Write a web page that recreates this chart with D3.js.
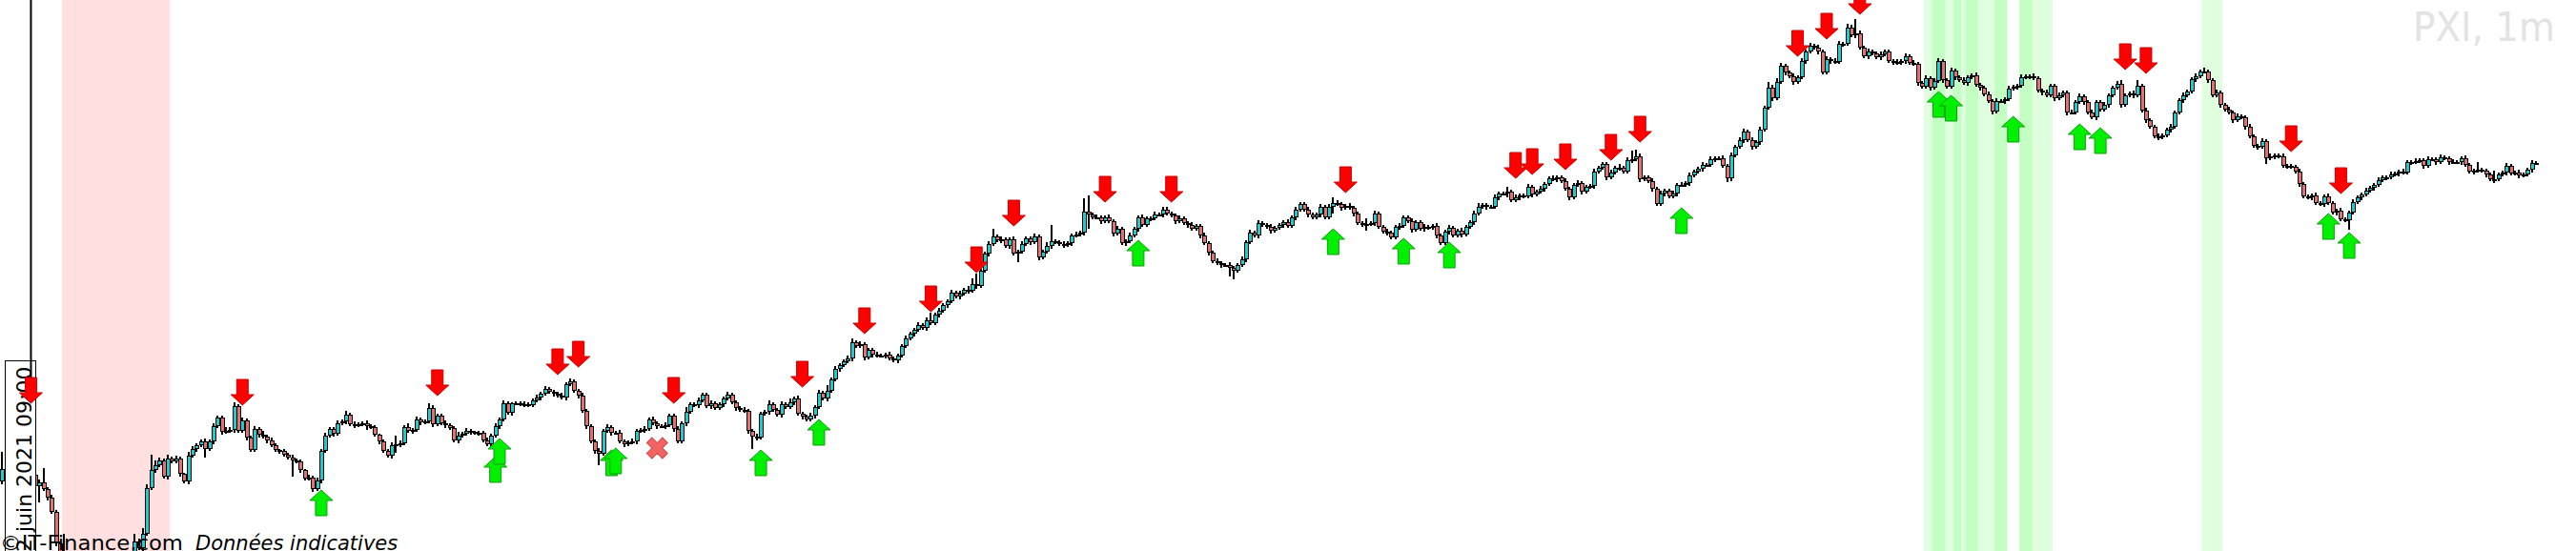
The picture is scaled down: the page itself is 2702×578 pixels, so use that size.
<!DOCTYPE html>
<html><head><meta charset="utf-8">
<script src="https://cdn.jsdelivr.net/npm/d3@7"></script>
<style>html,body{margin:0;padding:0;background:#fff;overflow:hidden}</style>
</head><body>
<svg id="chart" width="2702" height="578"></svg>
<script>
// ---- data: PXI 1-minute candles (price level units, close of each minute) ----
const firstOpen = 95;
const closeLvl = [
108,105,110,107,112,110,115,102,90,94,87,78,63,30,15,0,-10,-18,-25,-20,
-28,-32,-25,-30,-22,-16,-12,-6,0,-3,4,12,32,25,40,88,107,112,117,100,
119,116,119,103,95,122,129,133,137,129,137,153,162,147,148,149,174,148,159,141,
128,150,144,142,138,133,128,127,123,120,117,116,107,98,99,87,96,127,143,150,
145,156,158,165,155,154,155,156,153,152,144,137,127,122,133,134,135,152,148,149,
160,157,158,172,155,164,156,154,151,138,143,145,148,147,146,146,138,134,143,153,
160,177,167,177,177,176,176,175,180,183,187,192,189,187,185,183,197,200,190,185,
169,153,137,127,124,148,152,146,146,137,134,136,137,148,149,150,160,156,153,153,
154,164,150,137,156,168,176,175,180,186,174,177,172,176,182,186,178,172,170,169,
148,142,141,166,168,176,170,165,176,173,178,182,166,163,160,164,173,188,182,190,
202,213,217,221,224,241,237,239,225,233,228,227,227,228,224,222,227,237,245,250,
254,259,256,264,261,270,274,280,284,293,289,292,296,295,302,300,316,334,344,352,
348,349,342,349,334,336,344,350,346,352,330,336,342,347,346,344,343,345,353,354,
356,378,375,372,372,368,372,368,355,360,345,347,353,360,372,364,371,371,375,375,
380,376,374,368,371,366,364,360,363,353,345,335,326,324,322,322,319,316,322,328,
346,356,353,366,364,362,358,361,364,367,363,372,380,386,380,375,372,375,383,372,
383,387,386,382,384,382,376,366,364,365,366,376,362,357,356,351,362,363,372,368,
359,367,360,362,361,363,353,345,357,361,353,358,354,362,367,376,383,385,383,383,
393,397,397,399,390,393,395,394,404,396,399,402,407,413,412,414,410,402,393,406,
408,399,404,405,420,424,428,414,419,424,424,420,432,433,436,412,414,410,402,386,
397,400,394,397,406,406,408,416,420,423,427,427,433,434,434,426,413,437,446,453,
462,453,446,451,464,487,508,497,514,531,524,520,514,519,536,546,552,550,546,524,
538,536,535,554,554,571,563,565,550,541,546,544,540,543,546,536,535,534,536,541,
534,533,513,509,518,508,515,536,516,509,526,519,516,513,519,521,511,508,501,494,
483,494,494,496,507,509,510,519,520,520,518,505,503,500,510,497,500,503,482,482,
493,499,493,482,477,493,485,490,500,508,512,490,500,502,500,510,484,474,467,457,
456,458,464,467,482,495,500,504,517,520,525,525,516,500,503,490,485,482,474,478,
477,467,457,447,446,452,434,436,437,436,426,426,425,420,407,394,393,395,387,386,
394,387,377,379,370,369,377,388,393,396,400,403,406,411,414,414,417,418,420,419,
430,430,431,432,426,433,433,430,435,434,430,430,430,434,427,420,421,422,421,417,
412,412,417,419,426,418,419,416,417,422,429,429
];
// upper wick length above the body
const hiW = [
18,2,3,1,2,4,2,60,3,3,15,2,3,2,2,25,3,2,4,2,
3,2,4,2,3,2,3,2,4,2,3,3,8,3,6,4,16,5,3,2,
4,2,3,2,1,4,3,2,2,3,2,3,2,2,4,3,4,2,3,2,
2,3,2,4,2,3,2,1,2,2,3,2,2,1,3,2,3,2,3,2,
2,3,2,4,2,3,2,2,3,2,2,1,2,2,3,9,3,2,4,2,
3,2,2,5,3,2,2,3,2,2,4,2,3,2,1,2,2,3,2,3,
2,3,2,1,2,2,3,2,2,3,2,3,2,2,2,3,2,3,2,2,
3,2,2,2,3,2,3,2,2,3,2,2,3,2,2,3,2,3,2,2,
3,2,2,3,2,5,2,2,3,2,2,3,2,2,2,3,2,2,2,3,
2,2,3,2,2,4,2,2,3,2,4,2,3,2,2,3,2,3,2,6,
2,3,2,2,3,4,2,3,2,2,2,3,2,2,3,2,2,2,3,2,
2,3,2,3,8,2,3,2,2,3,2,3,2,4,6,11,2,2,3,8,
2,3,2,2,3,2,3,2,2,3,2,2,4,17,2,2,3,2,2,3,
2,14,17,2,3,2,2,3,2,3,2,2,3,2,2,3,2,2,3,2,
3,3,2,2,3,2,2,3,2,2,3,2,2,3,2,2,3,2,2,3,
2,3,2,3,2,2,3,2,2,2,3,2,3,2,2,3,2,2,3,2,
3,6,3,2,2,3,2,2,2,6,2,3,2,2,3,2,2,3,2,2,
3,2,2,3,2,2,3,2,2,3,2,2,3,2,2,3,4,2,2,2,
3,2,2,5,2,3,2,2,3,2,2,3,2,2,3,2,2,3,2,2,
3,2,2,2,3,2,2,2,3,2,4,2,3,9,7,3,2,2,3,2,
3,2,2,3,2,3,2,3,2,2,3,2,3,2,2,3,2,3,2,3,
3,2,3,2,3,2,6,3,4,3,2,2,3,2,3,2,3,2,3,2,
3,2,3,3,2,4,3,15,3,2,3,2,2,3,2,2,2,3,2,3,
2,3,2,2,3,2,3,3,2,2,3,2,2,3,2,2,3,2,2,3,
2,3,2,2,3,2,2,3,2,2,3,2,2,3,2,2,3,2,2,3,
2,3,2,2,3,2,2,3,2,2,3,4,2,2,3,6,2,3,2,2,
3,2,2,3,2,2,3,2,2,3,2,4,2,2,3,2,2,3,2,3,
2,2,3,2,2,3,2,3,2,2,3,2,2,2,3,2,2,2,3,2,
2,3,2,2,3,2,2,3,2,2,3,2,2,3,2,2,3,2,2,3,
2,2,3,2,2,3,2,2,3,2,2,3,2,2,3,2,2,8,2,2,
2,9,2,2,3,2,2,3,2,2,3,2
];
// lower wick length below the body
const loW = [
3,2,3,2,3,2,3,3,2,17,2,3,2,3,8,2,3,2,3,2,
2,3,2,3,2,3,2,3,2,3,2,2,3,2,3,2,2,3,2,2,
3,2,2,3,2,3,2,3,2,9,2,3,2,3,2,2,3,2,2,3,
2,2,3,2,3,2,2,3,2,2,17,2,3,2,2,3,2,3,2,2,
3,2,2,3,2,3,2,2,4,2,2,3,2,2,3,8,3,2,2,3,
2,3,2,2,3,2,2,3,2,2,3,2,2,3,2,3,2,2,3,2,
3,2,2,3,2,2,3,2,2,2,3,2,2,3,2,2,3,2,2,3,
2,3,2,3,12,2,2,3,2,2,3,2,2,3,2,3,2,2,3,2,
3,2,3,2,2,3,2,2,3,2,2,3,2,2,3,2,2,3,2,2,
3,13,3,2,2,3,2,2,3,2,2,3,2,3,2,2,3,2,2,3,
2,2,3,2,2,3,2,2,3,2,3,2,2,3,2,2,3,2,2,2,
3,2,2,3,2,2,3,2,3,2,2,3,2,3,2,3,2,2,3,2,
2,3,2,3,2,9,2,2,3,2,3,2,2,3,2,2,3,2,3,2,
2,3,15,2,2,3,2,2,3,2,2,3,2,2,3,2,2,3,2,2,
3,2,2,3,2,2,3,2,2,3,2,3,2,2,3,2,9,9,2,2,
3,2,2,3,2,2,3,2,2,3,2,2,3,2,2,3,2,2,3,2,
2,7,2,3,2,2,3,2,2,6,2,3,2,2,3,2,2,3,2,2,
3,2,2,3,2,2,3,2,2,3,2,2,3,2,2,3,2,2,3,2,
2,3,2,4,2,2,3,2,2,3,2,2,3,2,2,3,2,2,3,2,
2,3,2,2,3,2,2,3,2,2,3,2,2,3,2,3,2,2,3,2,
2,3,2,2,3,2,2,3,2,2,3,2,2,3,2,2,4,3,2,2,
3,2,3,2,3,2,2,3,2,2,3,2,3,2,2,3,2,2,3,2,
2,3,2,2,3,2,2,3,2,2,3,2,2,3,2,2,3,2,2,3,
2,2,3,2,2,3,2,2,3,2,2,3,2,2,3,2,2,3,2,2,
3,2,2,3,2,2,3,2,2,3,2,2,3,2,2,3,2,2,3,2,
2,2,3,2,2,3,2,2,3,2,2,3,2,2,3,2,2,3,2,2,
3,2,2,3,2,2,3,2,2,3,2,2,3,2,2,3,2,2,3,2,
2,3,2,2,3,2,6,2,3,2,2,3,2,2,3,2,2,3,2,2,
3,2,2,3,2,2,10,2,2,3,2,2,3,2,2,3,2,2,3,2,
2,3,2,2,3,2,2,3,2,2,3,2,2,3,2,2,3,2,2,3,
2,4,2,2,3,2,2,3,2,2,3,2
];
// signals: candle index and price level of the arrow tip
const sellIdx = [7,58,105,134,139,162,193,208,224,235,244,266,282,324,365,369,377,388,395,433,440,448,512,517,552,564];
const sellTip = [177,175,185,207,215,177,194,250,273,314,363,388,388,398,413,417,422,432,451,541,559,585,527,523,441,397];
const buyIdx  = [77,119,120,147,148,183,197,274,321,338,349,405,467,470,485,501,506,561,566];
const buyTip  = [86,121,140,128,130,128,160,348,360,350,346,382,504,500,478,470,466,376,356];
const cancelIdx = [158];
const cancelLvl = [130];
// shaded periods (candle index ranges)
const bandStart = [15,464,466,471,474,481,487,487,531];
const bandEnd   = [40,483,468,472,476,483,494,489,535];
const bandKind  = ["red","green","green","green","green","green","green","green","green"];
const titleText = "PXI, 1m";
const dateLabel = "2 juin 2021 09:00";
const dateIdx = 7;
const footerLeft = "©IT-Finance.com";
const footerRight = "Données indicatives";

// ---- build ----
const W = 2702, H = 578;
const N = closeLvl.length;
const step = 4.35;
const svg = d3.select("#chart");
const x = d3.scaleLinear().domain([0, N - 1]).range([2, 2 + step * (N - 1)]);
const y = d3.scaleLinear().domain([22, 600]).range([H, 0]);

const candles = closeLvl.map((c, i) => {
  const o = i === 0 ? firstOpen : closeLvl[i - 1];
  const top = Math.max(o, c), bot = Math.min(o, c);
  return {i, o, c, h: top + hiW[i], l: bot - loW[i], top, bot};
});

// title (background)
svg.append("text").attr("x", 2531).attr("y", 43)
  .attr("font-family", "DejaVu Sans, sans-serif").attr("font-size", 42)
  .attr("fill", "#e3e3e3").attr("textLength", 149).attr("lengthAdjust", "spacingAndGlyphs")
  .text(titleText);

// bands
svg.append("g").selectAll("rect").data(bandStart.map((s, k) => ({s, e: bandEnd[k], kind: bandKind[k]})))
  .join("rect")
  .attr("x", d => x(d.s) - step / 2)
  .attr("width", d => x(d.e) - x(d.s) + step)
  .attr("y", 0).attr("height", H)
  .attr("fill", d => d.kind === "red" ? "rgba(255,0,0,0.125)" : "rgba(0,255,0,0.125)");

// wicks
const g = svg.append("g").attr("shape-rendering", "crispEdges");
g.selectAll("line.w").data(candles).join("line").attr("class", "w")
  .attr("x1", d => Math.round(x(d.i))).attr("x2", d => Math.round(x(d.i)))
  .attr("y1", d => y(d.h)).attr("y2", d => y(d.l))
  .attr("stroke", "#000").attr("stroke-width", 2);
// bodies
g.selectAll("rect.b").data(candles).join("rect").attr("class", "b")
  .attr("x", d => Math.round(x(d.i)) - 1.5)
  .attr("width", 4)
  .attr("y", d => Math.round(y(d.top)) + 0.5)
  .attr("height", d => Math.max(1, Math.round(y(d.bot) - y(d.top)) - 1))
  .attr("fill", d => d.c >= d.o ? "#1fcbcc" : "#e2716f")
  .attr("stroke", "#000").attr("stroke-width", 1);

// date marker box + label
const dx = x(dateIdx);
svg.append("rect").attr("x", dx - 27).attr("y", 378.5).attr("width", 32).attr("height", 220)
  .attr("fill", "#fff").attr("stroke", "#000").attr("stroke-width", 1).attr("shape-rendering", "crispEdges");
svg.append("text").attr("transform", `translate(${dx + 1},579) rotate(-90)`)
  .attr("font-family", "DejaVu Sans, sans-serif").attr("font-size", 22).attr("fill", "#000")
  .text(dateLabel);
svg.append("line").attr("x1", dx).attr("x2", dx).attr("y1", 0).attr("y2", 405)
  .attr("stroke", "#000").attr("stroke-width", 2);

// arrows
function downArrow(cx, ty) {
  return `M${cx - 6},${ty - 27}H${cx + 6}V${ty - 11}H${cx + 12}L${cx},${ty}L${cx - 12},${ty - 11}H${cx - 6}Z`;
}
function upArrow(cx, ty) {
  return `M${cx},${ty}L${cx + 12},${ty + 11}H${cx + 6}V${ty + 27}H${cx - 6}V${ty + 11}H${cx - 12}Z`;
}
svg.append("g").selectAll("path").data(sellIdx.map((d, k) => ({i: d, t: sellTip[k]})))
  .join("path").attr("d", d => downArrow(x(d.i), y(d.t)))
  .attr("fill", "#ff0000").attr("stroke", "#c80000").attr("stroke-width", 1);
svg.append("g").selectAll("path").data(buyIdx.map((d, k) => ({i: d, t: buyTip[k]})))
  .join("path").attr("d", d => upArrow(x(d.i), y(d.t)))
  .attr("fill", "#00f000").attr("stroke", "#169a16").attr("stroke-width", 1);

// cancelled signal marker
svg.append("g").selectAll("path").data(cancelIdx.map((d, k) => ({i: d, v: cancelLvl[k]})))
  .join("path").attr("d", d3.symbol(d3.symbolCross, 300))
  .attr("transform", d => `translate(${x(d.i)},${y(d.v)}) rotate(45)`)
  .attr("fill", "#f06464").attr("stroke", "#d04a4a").attr("stroke-width", 1);

// footer
svg.append("text").attr("x", 0).attr("y", 577)
  .attr("font-family", "DejaVu Sans, sans-serif").attr("font-size", 21).attr("fill", "#000")
  .attr("textLength", 192).attr("lengthAdjust", "spacingAndGlyphs").text(footerLeft);
svg.append("text").attr("x", 205).attr("y", 577)
  .attr("font-family", "DejaVu Sans, sans-serif").attr("font-size", 21).attr("font-style", "italic").attr("fill", "#000")
  .text(footerRight);
</script>
</body></html>
